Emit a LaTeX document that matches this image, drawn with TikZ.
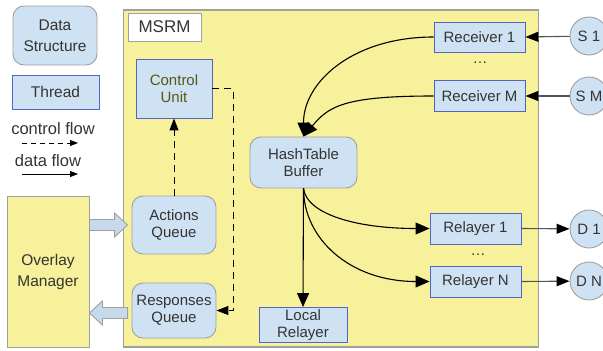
\documentclass[tikz,border=0pt]{standalone}
\usepackage{fontspec}
\setmainfont{Liberation Sans}
\usetikzlibrary{arrows.meta,calc}

\definecolor{msrmyellow}{RGB}{246,241,154}
\definecolor{boxblue}{RGB}{207,226,243}
\definecolor{threadedge}{RGB}{84,100,200}
\definecolor{softedge}{RGB}{160,160,160}
\definecolor{inktext}{RGB}{52,52,52}
\definecolor{olivetext}{RGB}{88,88,20}
\definecolor{arrowfill}{RGB}{198,218,236}
\definecolor{linkgray}{RGB}{85,85,85}

\begin{document}
\begin{tikzpicture}[x=1pt,y=-1pt,
  every node/.style={font=\fontsize{15}{16.5}\selectfont, text=inktext, align=center, inner sep=0pt},
  widelines/.style={font=\fontsize{15.5}{21}\selectfont},
  legendtext/.style={font=\fontsize{16.5}{17}\selectfont},
  datastruct/.style={draw=softedge, line width=0.9pt, fill=boxblue, rounded corners=11pt},
  thread/.style={draw=threadedge, line width=0.9pt, fill=boxblue},
  endpoint/.style={circle, draw=softedge, line width=0.9pt, fill=boxblue, minimum size=38pt},
  dataflow/.style={line width=1.1pt, -{Triangle[length=14pt,width=12pt]}},
  ctrlflow/.style={line width=1pt, dash pattern=on 7pt off 5pt, -{Triangle[length=12pt,width=9pt]}},
  link/.style={line width=1.1pt, draw=linkgray, -{Triangle[length=13pt,width=10pt,color=black]}},
  blockarrow/.style={draw=softedge, line width=0.9pt, fill=arrowfill},
]
\useasboundingbox (0,0) rectangle (603,351);

% legend
\node[datastruct, widelines, minimum width=84pt, minimum height=59pt] (ds) at (55,35.5) {Data\\Structure};
\node[thread, minimum width=87pt, minimum height=34pt, font=\fontsize{15.5}{16}\selectfont] (th) at (55.5,92) {Thread};
\node[legendtext] (cftext) at (53,129) {control flow};
\coordinate (cfa) at (22,143);
\coordinate (cfb) at (78,143);
\draw[line width=0.9pt, dash pattern=on 5pt off 4pt, -{Triangle[length=8pt,width=6pt]}] (cfa) -- (cfb);
\node[legendtext] (dftext) at (48,161) {data flow};
\coordinate (dfa) at (22,174);
\coordinate (dfb) at (78,174);
\draw[line width=0.9pt, -{Triangle[length=8pt,width=6pt]}] (dfa) -- (dfb);

% overlay manager
\node[draw=softedge, line width=0.9pt, fill=msrmyellow, widelines, minimum width=82pt, minimum height=151pt] (om) at (48,271.5) {Overlay\\Manager};

% MSRM container
\node[draw=softedge, line width=1.2pt, fill=msrmyellow, minimum width=415pt, minimum height=337pt] (msrm) at (331,178.5) {};
\node[draw=softedge, line width=0.9pt, fill=white, minimum width=73pt, minimum height=28pt, font=\fontsize{17}{17}\selectfont] (msrmlabel) at (164.5,27) {MSRM};

% inner parts
\node[thread, minimum width=76pt, minimum height=59pt, text=olivetext] (cu) at (174,88.5) {Control\\Unit};
\node[datastruct, minimum width=84pt, minimum height=58pt] (aq) at (174,225) {Actions\\Queue};
\node[datastruct, minimum width=84pt, minimum height=55pt] (rq) at (174,310.5) {Responses\\Queue};
\node[thread, minimum width=91pt, minimum height=30pt] (r1) at (479.5,37) {Receiver 1};
\node[thread, minimum width=91pt, minimum height=31pt] (rm) at (479.5,96) {Receiver M};
\node (rdots) at (480,63) {\dots};
\node[datastruct, minimum width=107pt, minimum height=51pt] (ht) at (303.5,162.5) {HashTable\\Buffer};
\node[thread, minimum width=91pt, minimum height=31pt] (rl1) at (475.5,228.5) {Relayer 1};
\node[thread, minimum width=91pt, minimum height=31pt] (rln) at (475.5,281.5) {Relayer N};
\node (ldots) at (478,255) {\dots};
\node[thread, minimum width=88pt, minimum height=35pt] (lr) at (303,325) {Local\\Relayer};

% sources and destinations
\node[endpoint] (s1) at (589,36) {S 1};
\node[endpoint] (sm) at (589,96) {S M};
\node[endpoint] (d1) at (589,229) {D 1};
\node[endpoint] (dn) at (589,281) {D N};

% exchange with the overlay manager
\draw[blockarrow] let \p1=(om.east|-aq.west), \p2=($(aq.west)+(-4pt,0)$) in
  (\x1,\y1-5.5pt) -- (\x2-13pt,\y1-5.5pt) -- (\x2-13pt,\y1-12pt) -- (\x2,\y1)
  -- (\x2-13pt,\y1+12pt) -- (\x2-13pt,\y1+5.5pt) -- (\x1,\y1+5.5pt) -- cycle;
\draw[blockarrow] let \p1=($(rq.west)+(-4pt,-2.5pt)$), \p2=(om.east|-\p1) in
  (\x1,\y1-5.5pt) -- (\x2+13pt,\y1-5.5pt) -- (\x2+13pt,\y1-12pt) -- (\x2,\y1)
  -- (\x2+13pt,\y1+12pt) -- (\x2+13pt,\y1+5.5pt) -- (\x1,\y1+5.5pt) -- cycle;

% control flow
\draw[ctrlflow] (aq.north) -- (cu.south);
\draw[ctrlflow] (cu.east) -- ++(21,0) |- (rq.east);

% data flow
\draw[link] (s1) -- (r1.east);
\draw[link] (sm) -- (rm.east);
\draw[dataflow] (r1.west) .. controls +(-80,0) and +(0,-55) .. (ht.north);
\draw[dataflow] (rm.west) .. controls +(-90,0) and +(25,-30) .. (ht.north);
\draw[dataflow] (ht.south) .. controls +(3,25) and +(-75,0) .. (rl1.west);
\draw[dataflow] (ht.south) .. controls +(0,50) and +(-80,0) .. (rln.west);
\draw[dataflow] (ht.south) -- (lr.north);
\draw[link] (rl1.east) -- (d1);
\draw[link] (rln.east) -- (dn);
\end{tikzpicture}
\end{document}
